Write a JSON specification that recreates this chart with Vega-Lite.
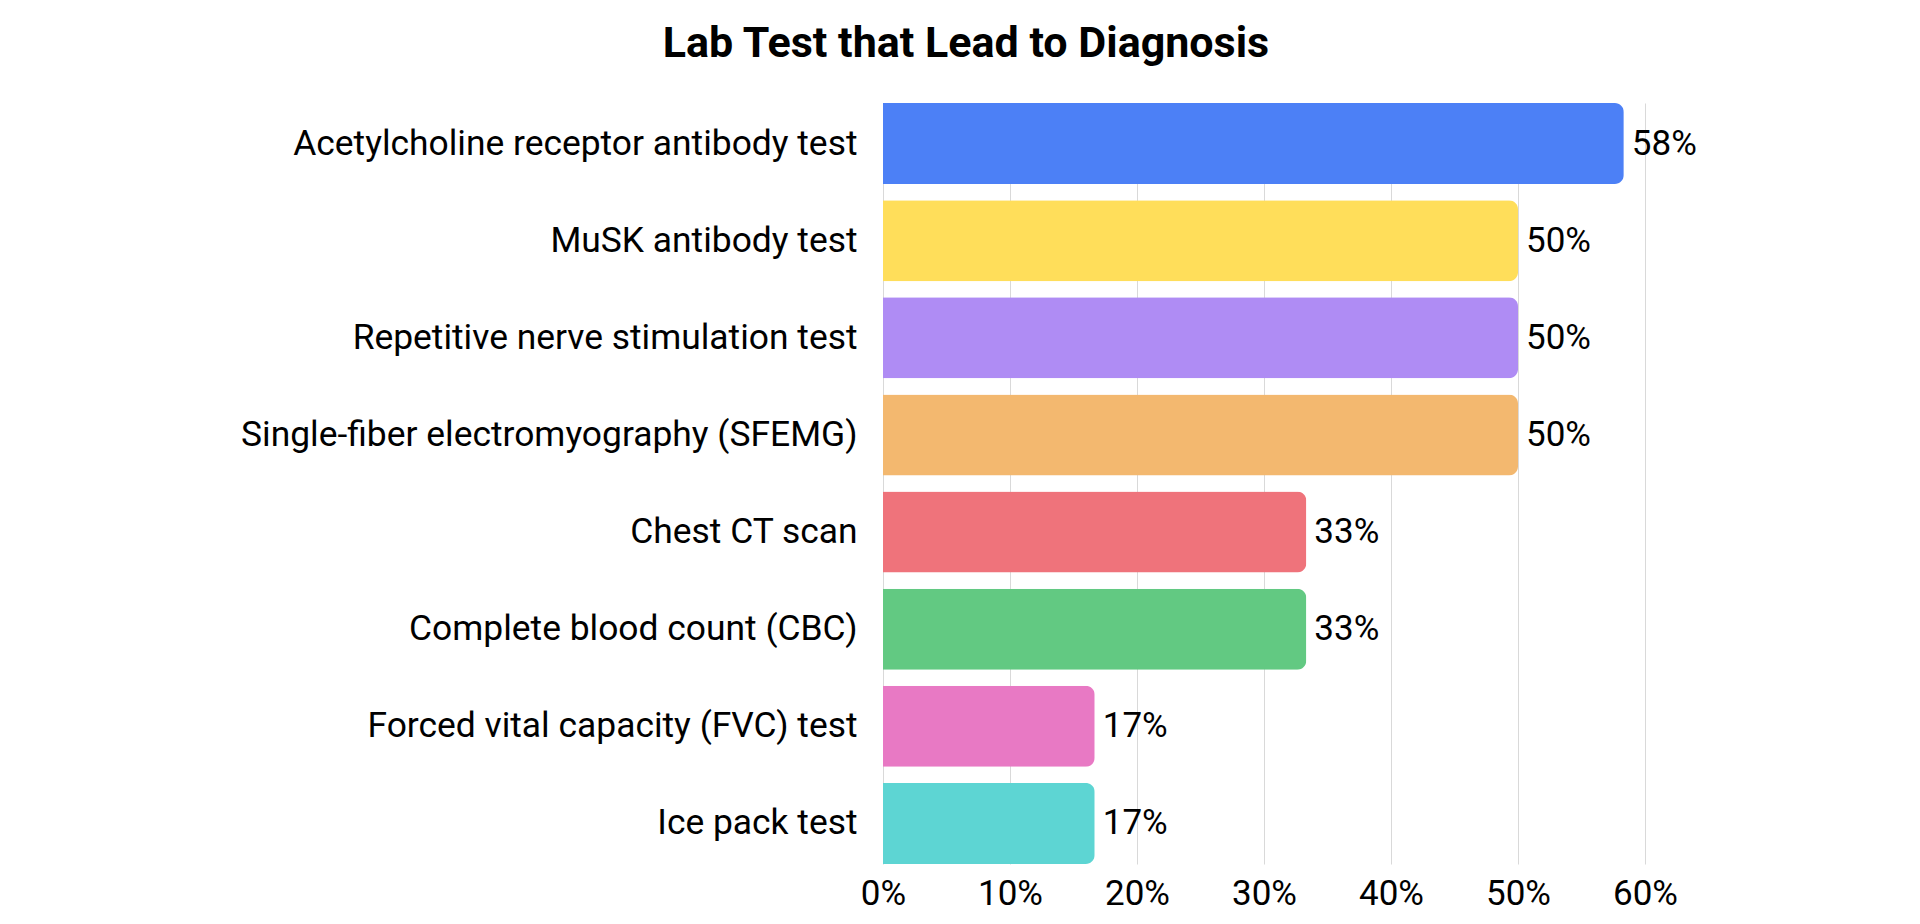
{
  "$schema": "https://vega.github.io/schema/vega-lite/v6.json",
  "autosize": "none",
  "width": 762,
  "height": 761,
  "padding": {"left": 883, "top": 103, "right": 275, "bottom": 60},
  "background": "white",
  "title": {"text": "Lab Test that Lead to Diagnosis", "font": "Roboto", "fontWeight": "bold", "fontSize": 43, "color": "#000000", "anchor": "middle", "frame": "group", "dx": -298, "baseline": "alphabetic", "offset": 3},
  "config": {"view": {"stroke": null}, "font": "Roboto"},
  "data": {"values": [
    {"test": "Acetylcholine receptor antibody test", "share": 0.5833},
    {"test": "MuSK antibody test", "share": 0.5},
    {"test": "Repetitive nerve stimulation test", "share": 0.5},
    {"test": "Single-fiber electromyography (SFEMG)", "share": 0.5},
    {"test": "Chest CT scan", "share": 0.3333},
    {"test": "Complete blood count (CBC)", "share": 0.3333},
    {"test": "Forced vital capacity (FVC) test", "share": 0.1667},
    {"test": "Ice pack test", "share": 0.1667}
  ]},
  "encoding": {
    "y": {"field": "test", "type": "nominal", "sort": null,
      "scale": {"paddingInner": 0.165, "paddingOuter": 0},
      "axis": {"title": null, "ticks": false, "domain": false, "labelFont": "Roboto", "labelFontSize": 35.4, "labelColor": "#000000", "labelPadding": 26, "labelLimit": 800}},
    "x": {"field": "share", "type": "quantitative",
      "scale": {"domain": [0, 0.6], "nice": false},
      "axis": {"title": null, "format": ".0%", "values": [0, 0.1, 0.2, 0.3, 0.4, 0.5, 0.6], "ticks": false, "domain": false, "grid": true, "gridColor": "#d9d9d9", "gridWidth": 1, "labelFont": "Roboto", "labelFontSize": 35, "labelColor": "#000000", "labelPadding": 12, "labelFlush": false}}
  },
  "layer": [
    {"mark": {"type": "bar", "cornerRadiusEnd": 9},
     "encoding": {"color": {"field": "test", "type": "nominal", "sort": null, "legend": null,
       "scale": {"range": ["#4C80F6", "#FFDE5A", "#AF8CF4", "#F3B86F", "#EF737B", "#62C982", "#E879C4", "#5DD5D3"]}}}},
    {"mark": {"type": "text", "align": "left", "baseline": "middle", "dx": 8, "font": "Roboto", "fontSize": 35, "color": "#000000"},
     "encoding": {"text": {"field": "share", "type": "quantitative", "format": ".0%"}}}
  ]
}
